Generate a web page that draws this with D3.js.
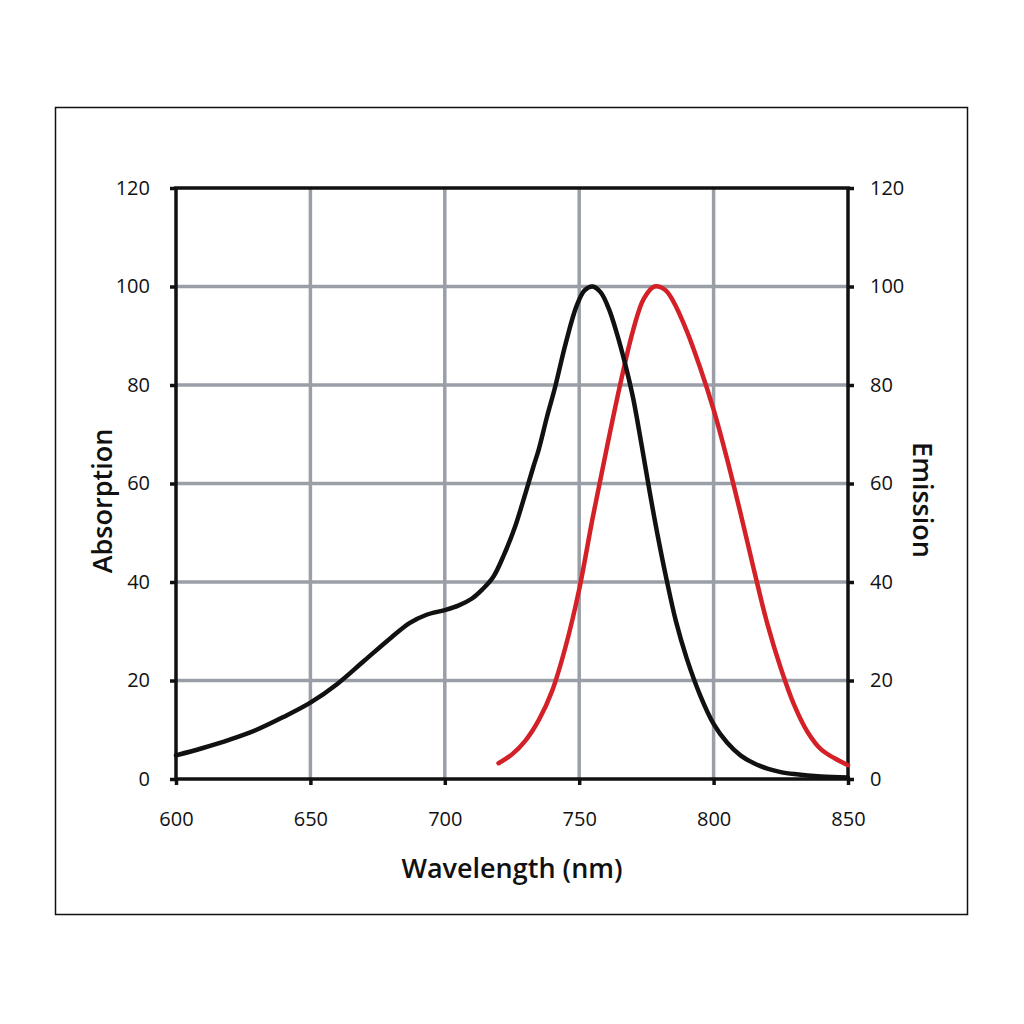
<!DOCTYPE html>
<html>
<head>
<meta charset="utf-8">
<script src="https://cdn.jsdelivr.net/npm/d3@7"></script>
<style>
  body { margin: 0; background: #fff; }
  svg { display: block; }
  .tick text { font-family: "Open Sans", sans-serif; font-size: 20px; fill: #111; }
  .title { font-family: "Open Sans", sans-serif; font-size: 27px; font-weight: 600; fill: #111; }
</style>
</head>
<body>
<div id="chart"></div>
<script>
// Absorption spectrum (black): wavelength (nm) and value
var absWave = [600, 610, 620, 630, 640, 650, 660, 670, 680, 687, 693, 700, 705, 710, 714, 718, 722, 726, 730, 733, 735, 738, 741, 745, 749, 752, 755, 758, 761, 764, 767, 770, 773, 776, 779, 782.5, 786, 790, 795, 800, 805, 810, 815, 820, 825, 830, 840, 850];
var absValue = [4.8, 6.3, 8, 10, 12.6, 15.5, 19.3, 24, 28.7, 31.7, 33.3, 34.3, 35.2, 36.6, 38.5, 41, 45.5, 51, 58, 63.5, 67, 73.5, 79.5, 88.5, 96, 99.2, 100, 98.8, 95.5, 90.5, 84.5, 77.5, 68.5, 59, 50, 40.5, 32, 24.5, 17, 11.2, 7.4, 4.8, 3.2, 2.1, 1.4, 1, 0.5, 0.3];

// Emission spectrum (red)
var emWave = [720, 725, 730, 735, 740, 745, 750, 755, 760, 765, 770, 774, 778, 782, 785, 790, 795, 800, 805, 810, 815, 820, 825, 830, 835, 840, 845, 850];
var emValue = [3.2, 5, 7.8, 12, 18, 27, 38.5, 53, 66.5, 79.5, 91, 97.5, 100, 99.3, 97, 91, 83.5, 75, 65, 54, 42.5, 31.5, 22.5, 15, 9.5, 6, 4.2, 2.8];

var xTicks = [600, 650, 700, 750, 800, 850];
var yTicks = [0, 20, 40, 60, 80, 100, 120];

var width = 1024, height = 1024;
var margin = {top: 188, right: 176, bottom: 245, left: 176};
var plotW = width - margin.left - margin.right,
    plotH = height - margin.top - margin.bottom;

var svg = d3.select("#chart").append("svg")
  .attr("width", width)
  .attr("height", height);

// outer frame
svg.append("rect")
  .attr("x", 55.5).attr("y", 107.5)
  .attr("width", 912).attr("height", 807)
  .attr("fill", "none").attr("stroke", "#111").attr("stroke-width", 1.5);

var g = svg.append("g")
  .attr("transform", "translate(" + margin.left + "," + margin.top + ")");

var x = d3.scaleLinear().domain([600, 850]).range([0, plotW]);
var y = d3.scaleLinear().domain([0, 120]).range([plotH, 0]);

// grid
g.selectAll(".vgrid")
  .data(xTicks.slice(1, -1)).enter()
  .append("line")
    .attr("x1", function(d) { return x(d); })
    .attr("x2", function(d) { return x(d); })
    .attr("y1", 0).attr("y2", plotH)
    .attr("stroke", "#9a9fa7").attr("stroke-width", 3.5);

g.selectAll(".hgrid")
  .data(yTicks.slice(1, -1)).enter()
  .append("line")
    .attr("y1", function(d) { return y(d); })
    .attr("y2", function(d) { return y(d); })
    .attr("x1", 0).attr("x2", plotW)
    .attr("stroke", "#9a9fa7").attr("stroke-width", 3.5);

// axes
function styleAxis(sel) {
  sel.select(".domain").remove();
  sel.selectAll(".tick line").attr("stroke", "#111").attr("stroke-width", 3.5);
}

g.append("g")
  .call(d3.axisLeft(y).tickValues(yTicks).tickSize(6).tickPadding(20).tickSizeOuter(0))
  .call(styleAxis);

g.append("g")
  .attr("transform", "translate(" + plotW + ",0)")
  .call(d3.axisRight(y).tickValues(yTicks).tickSize(6).tickPadding(16).tickSizeOuter(0))
  .call(styleAxis);

g.append("g")
  .attr("transform", "translate(0," + plotH + ")")
  .call(d3.axisBottom(x).tickValues(xTicks).tickSize(6).tickPadding(27).tickSizeOuter(0))
  .call(styleAxis);

// plot frame
g.append("rect")
  .attr("x", 0).attr("y", 0)
  .attr("width", plotW).attr("height", plotH)
  .attr("fill", "none").attr("stroke", "#111").attr("stroke-width", 3.5);

// curves
var line = d3.line()
  .x(function(d) { return x(d[0]); })
  .y(function(d) { return y(d[1]); })
  .curve(d3.curveCatmullRom.alpha(0.5));

var absData = absWave.map(function(w, i) { return [w, absValue[i]]; });
var emData = emWave.map(function(w, i) { return [w, emValue[i]]; });

g.append("path")
  .datum(emData)
  .attr("d", line)
  .attr("fill", "none")
  .attr("stroke", "#d42127")
  .attr("stroke-width", 4.5)
  .attr("stroke-linecap", "round");

g.append("path")
  .datum(absData)
  .attr("d", line)
  .attr("fill", "none")
  .attr("stroke", "#111")
  .attr("stroke-width", 4.5)
  .attr("stroke-linecap", "round");

// titles
svg.append("text")
  .attr("class", "title")
  .attr("x", 512).attr("y", 878)
  .attr("text-anchor", "middle")
  .text("Wavelength (nm)");

svg.append("text")
  .attr("class", "title")
  .attr("transform", "translate(112,501) rotate(-90)")
  .attr("text-anchor", "middle")
  .text("Absorption");

svg.append("text")
  .attr("class", "title")
  .attr("transform", "translate(913,500) rotate(90)")
  .attr("text-anchor", "middle")
  .text("Emission");
</script>
</body>
</html>
